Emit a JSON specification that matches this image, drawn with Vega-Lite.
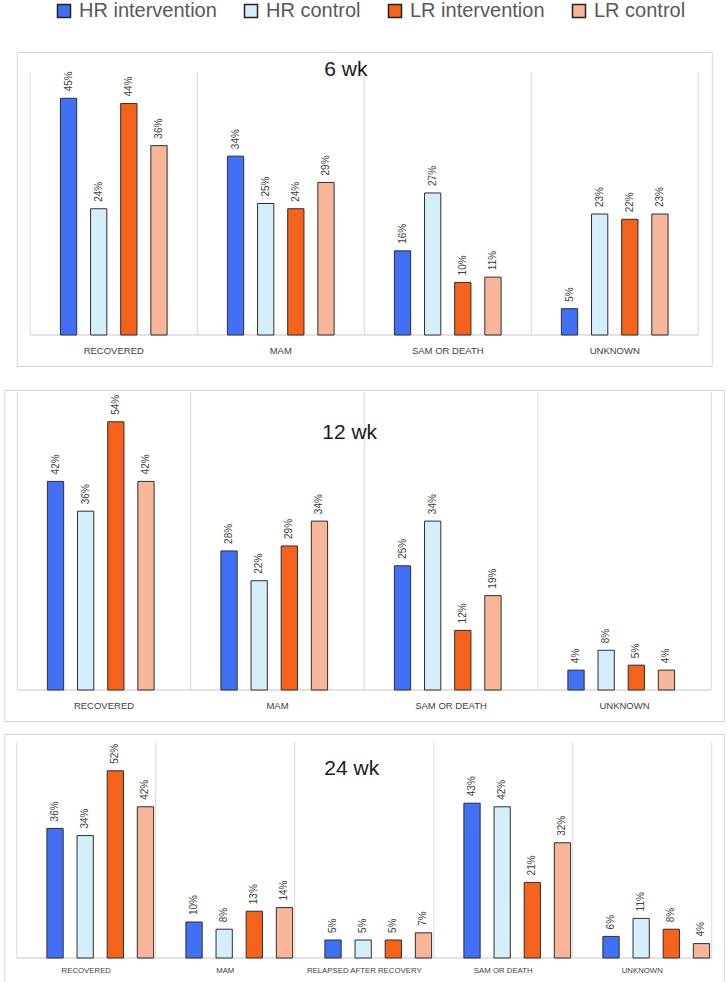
{
  "$schema": "https://vega.github.io/schema/vega-lite/v6.json",
  "padding": {"left": 3, "top": 1, "right": 0, "bottom": 0},
  "background": "white",
  "data": {"values": [
    {"panel": "6 wk", "category": "RECOVERED", "group": "HR intervention", "value": 0.45},
    {"panel": "6 wk", "category": "RECOVERED", "group": "HR control", "value": 0.24},
    {"panel": "6 wk", "category": "RECOVERED", "group": "LR intervention", "value": 0.44},
    {"panel": "6 wk", "category": "RECOVERED", "group": "LR control", "value": 0.36},
    {"panel": "6 wk", "category": "MAM", "group": "HR intervention", "value": 0.34},
    {"panel": "6 wk", "category": "MAM", "group": "HR control", "value": 0.25},
    {"panel": "6 wk", "category": "MAM", "group": "LR intervention", "value": 0.24},
    {"panel": "6 wk", "category": "MAM", "group": "LR control", "value": 0.29},
    {"panel": "6 wk", "category": "SAM OR DEATH", "group": "HR intervention", "value": 0.16},
    {"panel": "6 wk", "category": "SAM OR DEATH", "group": "HR control", "value": 0.27},
    {"panel": "6 wk", "category": "SAM OR DEATH", "group": "LR intervention", "value": 0.10},
    {"panel": "6 wk", "category": "SAM OR DEATH", "group": "LR control", "value": 0.11},
    {"panel": "6 wk", "category": "UNKNOWN", "group": "HR intervention", "value": 0.05},
    {"panel": "6 wk", "category": "UNKNOWN", "group": "HR control", "value": 0.23},
    {"panel": "6 wk", "category": "UNKNOWN", "group": "LR intervention", "value": 0.22},
    {"panel": "6 wk", "category": "UNKNOWN", "group": "LR control", "value": 0.23},
    {"panel": "12 wk", "category": "RECOVERED", "group": "HR intervention", "value": 0.42},
    {"panel": "12 wk", "category": "RECOVERED", "group": "HR control", "value": 0.36},
    {"panel": "12 wk", "category": "RECOVERED", "group": "LR intervention", "value": 0.54},
    {"panel": "12 wk", "category": "RECOVERED", "group": "LR control", "value": 0.42},
    {"panel": "12 wk", "category": "MAM", "group": "HR intervention", "value": 0.28},
    {"panel": "12 wk", "category": "MAM", "group": "HR control", "value": 0.22},
    {"panel": "12 wk", "category": "MAM", "group": "LR intervention", "value": 0.29},
    {"panel": "12 wk", "category": "MAM", "group": "LR control", "value": 0.34},
    {"panel": "12 wk", "category": "SAM OR DEATH", "group": "HR intervention", "value": 0.25},
    {"panel": "12 wk", "category": "SAM OR DEATH", "group": "HR control", "value": 0.34},
    {"panel": "12 wk", "category": "SAM OR DEATH", "group": "LR intervention", "value": 0.12},
    {"panel": "12 wk", "category": "SAM OR DEATH", "group": "LR control", "value": 0.19},
    {"panel": "12 wk", "category": "UNKNOWN", "group": "HR intervention", "value": 0.04},
    {"panel": "12 wk", "category": "UNKNOWN", "group": "HR control", "value": 0.08},
    {"panel": "12 wk", "category": "UNKNOWN", "group": "LR intervention", "value": 0.05},
    {"panel": "12 wk", "category": "UNKNOWN", "group": "LR control", "value": 0.04},
    {"panel": "24 wk", "category": "RECOVERED", "group": "HR intervention", "value": 0.36},
    {"panel": "24 wk", "category": "RECOVERED", "group": "HR control", "value": 0.34},
    {"panel": "24 wk", "category": "RECOVERED", "group": "LR intervention", "value": 0.52},
    {"panel": "24 wk", "category": "RECOVERED", "group": "LR control", "value": 0.42},
    {"panel": "24 wk", "category": "MAM", "group": "HR intervention", "value": 0.10},
    {"panel": "24 wk", "category": "MAM", "group": "HR control", "value": 0.08},
    {"panel": "24 wk", "category": "MAM", "group": "LR intervention", "value": 0.13},
    {"panel": "24 wk", "category": "MAM", "group": "LR control", "value": 0.14},
    {"panel": "24 wk", "category": "RELAPSED AFTER RECOVERY", "group": "HR intervention", "value": 0.05},
    {"panel": "24 wk", "category": "RELAPSED AFTER RECOVERY", "group": "HR control", "value": 0.05},
    {"panel": "24 wk", "category": "RELAPSED AFTER RECOVERY", "group": "LR intervention", "value": 0.05},
    {"panel": "24 wk", "category": "RELAPSED AFTER RECOVERY", "group": "LR control", "value": 0.07},
    {"panel": "24 wk", "category": "SAM OR DEATH", "group": "HR intervention", "value": 0.43},
    {"panel": "24 wk", "category": "SAM OR DEATH", "group": "HR control", "value": 0.42},
    {"panel": "24 wk", "category": "SAM OR DEATH", "group": "LR intervention", "value": 0.21},
    {"panel": "24 wk", "category": "SAM OR DEATH", "group": "LR control", "value": 0.32},
    {"panel": "24 wk", "category": "UNKNOWN", "group": "HR intervention", "value": 0.06},
    {"panel": "24 wk", "category": "UNKNOWN", "group": "HR control", "value": 0.11},
    {"panel": "24 wk", "category": "UNKNOWN", "group": "LR intervention", "value": 0.08},
    {"panel": "24 wk", "category": "UNKNOWN", "group": "LR control", "value": 0.04}
  ]},
  "center": true,
  "spacing": 22,
  "vconcat": [
    {
      "width": 695, "height": 314,
      "transform": [{"filter": "datum.panel == '6 wk'"}],
      "layer": [
        {
          "transform": [{"aggregate": [{"op": "count", "as": "n"}], "groupby": ["category"]}],
          "mark": {"type": "rule", "color": "#d9d9d9", "strokeWidth": 1},
          "encoding": {
            "x": {"field": "category", "type": "nominal", "bandPosition": 0, "axis": null, "scale": {"domain": ["RECOVERED", "MAM", "SAM OR DEATH", "UNKNOWN"], "paddingInner": 0, "paddingOuter": 0.081}},
            "y": {"datum": 0, "type": "quantitative", "axis": null, "scale": {"domain": [-0.0589, 0.538], "nice": false, "zero": false}},
            "y2": {"datum": 0.5}
          }
        },
        {
          "transform": [{"aggregate": [{"op": "count", "as": "n"}], "groupby": ["category"]}, {"filter": "datum.category == 'UNKNOWN'"}],
          "mark": {"type": "rule", "color": "#d9d9d9", "strokeWidth": 1},
          "encoding": {
            "x": {"field": "category", "type": "nominal", "bandPosition": 1, "axis": null, "scale": {"domain": ["RECOVERED", "MAM", "SAM OR DEATH", "UNKNOWN"], "paddingInner": 0, "paddingOuter": 0.081}},
            "y": {"datum": 0, "type": "quantitative", "axis": null, "scale": {"domain": [-0.0589, 0.538], "nice": false, "zero": false}},
            "y2": {"datum": 0.5}
          }
        },
        {
          "transform": [{"aggregate": [{"op": "count", "as": "n"}], "groupby": ["category"]}],
          "mark": {"type": "bar", "fill": null, "fillOpacity": 0, "stroke": "#d9d9d9", "strokeWidth": 1},
          "encoding": {
            "x": {"field": "category", "type": "nominal", "axis": null, "scale": {"domain": ["RECOVERED", "MAM", "SAM OR DEATH", "UNKNOWN"], "paddingInner": 0, "paddingOuter": 0.081}},
            "y": {"datum": 0, "type": "quantitative", "axis": null, "scale": {"domain": [-0.0589, 0.538], "nice": false, "zero": false}},
            "y2": {"datum": 0}
          }
        },
        {
          "mark": {"type": "bar", "stroke": "#2e2e2e", "strokeWidth": 1},
          "encoding": {
            "x": {"field": "category", "type": "nominal", "axis": null, "scale": {"domain": ["RECOVERED", "MAM", "SAM OR DEATH", "UNKNOWN"], "paddingInner": 0, "paddingOuter": 0.081}},
            "xOffset": {"field": "group", "type": "nominal", "scale": {"domain": ["HR intervention", "HR control", "LR intervention", "LR control"], "paddingInner": 0.46, "paddingOuter": 1.15}},
            "y": {"field": "value", "type": "quantitative", "axis": null, "scale": {"domain": [-0.0589, 0.538], "nice": false, "zero": false}},
            "y2": {"datum": 0},
            "color": {"field": "group", "type": "nominal", "scale": {"domain": ["HR intervention", "HR control", "LR intervention", "LR control"], "range": ["#4170F5", "#D4EFF9", "#F4621B", "#F8B698"]}, "legend": {"orient": "none", "legendX": 50, "legendY": -51, "direction": "horizontal", "title": null}}
          }
        },
        {
          "mark": {"type": "text", "angle": 270, "align": "left", "baseline": "middle", "dx": 7, "fontSize": 10, "font": "Liberation Sans", "color": "#404040"},
          "encoding": {
            "x": {"field": "category", "type": "nominal", "axis": null, "scale": {"domain": ["RECOVERED", "MAM", "SAM OR DEATH", "UNKNOWN"], "paddingInner": 0, "paddingOuter": 0.081}},
            "xOffset": {"field": "group", "type": "nominal", "scale": {"domain": ["HR intervention", "HR control", "LR intervention", "LR control"], "paddingInner": 0.46, "paddingOuter": 1.15}},
            "y": {"field": "value", "type": "quantitative", "axis": null, "scale": {"domain": [-0.0589, 0.538], "nice": false, "zero": false}},
            "text": {"field": "value", "type": "quantitative", "format": ".0%"}
          }
        },
        {
          "transform": [{"aggregate": [{"op": "count", "as": "n"}], "groupby": ["category"]}],
          "mark": {"type": "text", "align": "center", "baseline": "middle", "fontSize": 9.5, "font": "Liberation Sans", "color": "#404040"},
          "encoding": {
            "x": {"field": "category", "type": "nominal", "axis": null, "scale": {"domain": ["RECOVERED", "MAM", "SAM OR DEATH", "UNKNOWN"], "paddingInner": 0, "paddingOuter": 0.081}},
            "y": {"datum": -0.0304, "type": "quantitative", "axis": null, "scale": {"domain": [-0.0589, 0.538], "nice": false, "zero": false}},
            "text": {"field": "category", "type": "nominal"}
          }
        },
        {
          "data": {"values": [{"category": "MAM", "t": "6 wk"}]},
          "mark": {"type": "text", "align": "center", "baseline": "middle", "fontSize": 21, "font": "Liberation Sans", "color": "#1a1a1a"},
          "encoding": {
            "x": {"field": "category", "type": "nominal", "bandPosition": 0.89, "axis": null, "scale": {"domain": ["RECOVERED", "MAM", "SAM OR DEATH", "UNKNOWN"], "paddingInner": 0, "paddingOuter": 0.081}},
            "y": {"datum": 0.504, "type": "quantitative", "axis": null, "scale": {"domain": [-0.0589, 0.538], "nice": false, "zero": false}},
            "text": {"field": "t", "type": "nominal"}
          }
        }
      ]
    },
    {
      "spacing": 11,
      "vconcat": [
        {
          "width": 720, "height": 331,
          "transform": [{"filter": "datum.panel == '12 wk'"}],
          "layer": [
            {
              "transform": [{"aggregate": [{"op": "count", "as": "n"}], "groupby": ["category"]}],
              "mark": {"type": "rule", "color": "#d9d9d9", "strokeWidth": 1},
              "encoding": {
                "x": {"field": "category", "type": "nominal", "bandPosition": 0, "axis": null, "scale": {"domain": ["RECOVERED", "MAM", "SAM OR DEATH", "UNKNOWN"], "paddingInner": 0, "paddingOuter": 0.075}},
                "y": {"datum": 0, "type": "quantitative", "axis": null, "scale": {"domain": [-0.0624, 0.604], "nice": false, "zero": false}},
                "y2": {"datum": 0.6}
              }
            },
            {
              "transform": [{"aggregate": [{"op": "count", "as": "n"}], "groupby": ["category"]}, {"filter": "datum.category == 'UNKNOWN'"}],
              "mark": {"type": "rule", "color": "#d9d9d9", "strokeWidth": 1},
              "encoding": {
                "x": {"field": "category", "type": "nominal", "bandPosition": 1, "axis": null, "scale": {"domain": ["RECOVERED", "MAM", "SAM OR DEATH", "UNKNOWN"], "paddingInner": 0, "paddingOuter": 0.075}},
                "y": {"datum": 0, "type": "quantitative", "axis": null, "scale": {"domain": [-0.0624, 0.604], "nice": false, "zero": false}},
                "y2": {"datum": 0.6}
              }
            },
            {
              "transform": [{"aggregate": [{"op": "count", "as": "n"}], "groupby": ["category"]}],
              "mark": {"type": "bar", "fill": null, "fillOpacity": 0, "stroke": "#d9d9d9", "strokeWidth": 1},
              "encoding": {
                "x": {"field": "category", "type": "nominal", "axis": null, "scale": {"domain": ["RECOVERED", "MAM", "SAM OR DEATH", "UNKNOWN"], "paddingInner": 0, "paddingOuter": 0.075}},
                "y": {"datum": 0, "type": "quantitative", "axis": null, "scale": {"domain": [-0.0624, 0.604], "nice": false, "zero": false}},
                "y2": {"datum": 0}
              }
            },
            {
              "mark": {"type": "bar", "stroke": "#2e2e2e", "strokeWidth": 1},
              "encoding": {
                "x": {"field": "category", "type": "nominal", "axis": null, "scale": {"domain": ["RECOVERED", "MAM", "SAM OR DEATH", "UNKNOWN"], "paddingInner": 0, "paddingOuter": 0.075}},
                "xOffset": {"field": "group", "type": "nominal", "scale": {"domain": ["HR intervention", "HR control", "LR intervention", "LR control"], "paddingInner": 0.46, "paddingOuter": 1.15}},
                "y": {"field": "value", "type": "quantitative", "axis": null, "scale": {"domain": [-0.0624, 0.604], "nice": false, "zero": false}},
                "y2": {"datum": 0},
                "color": {"field": "group", "type": "nominal", "scale": {"domain": ["HR intervention", "HR control", "LR intervention", "LR control"], "range": ["#4170F5", "#D4EFF9", "#F4621B", "#F8B698"]}, "legend": {"orient": "none", "legendX": 50, "legendY": -51, "direction": "horizontal", "title": null}}
              }
            },
            {
              "mark": {"type": "text", "angle": 270, "align": "left", "baseline": "middle", "dx": 7, "fontSize": 10, "font": "Liberation Sans", "color": "#404040"},
              "encoding": {
                "x": {"field": "category", "type": "nominal", "axis": null, "scale": {"domain": ["RECOVERED", "MAM", "SAM OR DEATH", "UNKNOWN"], "paddingInner": 0, "paddingOuter": 0.075}},
                "xOffset": {"field": "group", "type": "nominal", "scale": {"domain": ["HR intervention", "HR control", "LR intervention", "LR control"], "paddingInner": 0.46, "paddingOuter": 1.15}},
                "y": {"field": "value", "type": "quantitative", "axis": null, "scale": {"domain": [-0.0624, 0.604], "nice": false, "zero": false}},
                "text": {"field": "value", "type": "quantitative", "format": ".0%"}
              }
            },
            {
              "transform": [{"aggregate": [{"op": "count", "as": "n"}], "groupby": ["category"]}],
              "mark": {"type": "text", "align": "center", "baseline": "middle", "fontSize": 9.5, "font": "Liberation Sans", "color": "#404040"},
              "encoding": {
                "x": {"field": "category", "type": "nominal", "axis": null, "scale": {"domain": ["RECOVERED", "MAM", "SAM OR DEATH", "UNKNOWN"], "paddingInner": 0, "paddingOuter": 0.075}},
                "y": {"datum": -0.032, "type": "quantitative", "axis": null, "scale": {"domain": [-0.0624, 0.604], "nice": false, "zero": false}},
                "text": {"field": "category", "type": "nominal"}
              }
            },
            {
              "data": {"values": [{"category": "MAM", "t": "12 wk"}]},
              "mark": {"type": "text", "align": "center", "baseline": "middle", "fontSize": 21, "font": "Liberation Sans", "color": "#1a1a1a"},
              "encoding": {
                "x": {"field": "category", "type": "nominal", "bandPosition": 0.916, "axis": null, "scale": {"domain": ["RECOVERED", "MAM", "SAM OR DEATH", "UNKNOWN"], "paddingInner": 0, "paddingOuter": 0.075}},
                "y": {"datum": 0.5174, "type": "quantitative", "axis": null, "scale": {"domain": [-0.0624, 0.604], "nice": false, "zero": false}},
                "text": {"field": "t", "type": "nominal"}
              }
            }
          ]
        },
        {
          "width": 720, "height": 250,
          "transform": [{"filter": "datum.panel == '24 wk'"}],
          "layer": [
            {
              "transform": [{"aggregate": [{"op": "count", "as": "n"}], "groupby": ["category"]}],
              "mark": {"type": "rule", "color": "#d9d9d9", "strokeWidth": 1},
              "encoding": {
                "x": {"field": "category", "type": "nominal", "bandPosition": 0, "axis": null, "scale": {"domain": ["RECOVERED", "MAM", "RELAPSED AFTER RECOVERY", "SAM OR DEATH", "UNKNOWN"], "paddingInner": 0, "paddingOuter": 0.09}},
                "y": {"datum": 0, "type": "quantitative", "axis": null, "scale": {"domain": [-0.0722, 0.6222], "nice": false, "zero": false}},
                "y2": {"datum": 0.6}
              }
            },
            {
              "transform": [{"aggregate": [{"op": "count", "as": "n"}], "groupby": ["category"]}, {"filter": "datum.category == 'UNKNOWN'"}],
              "mark": {"type": "rule", "color": "#d9d9d9", "strokeWidth": 1},
              "encoding": {
                "x": {"field": "category", "type": "nominal", "bandPosition": 1, "axis": null, "scale": {"domain": ["RECOVERED", "MAM", "RELAPSED AFTER RECOVERY", "SAM OR DEATH", "UNKNOWN"], "paddingInner": 0, "paddingOuter": 0.09}},
                "y": {"datum": 0, "type": "quantitative", "axis": null, "scale": {"domain": [-0.0722, 0.6222], "nice": false, "zero": false}},
                "y2": {"datum": 0.6}
              }
            },
            {
              "transform": [{"aggregate": [{"op": "count", "as": "n"}], "groupby": ["category"]}],
              "mark": {"type": "bar", "fill": null, "fillOpacity": 0, "stroke": "#d9d9d9", "strokeWidth": 1},
              "encoding": {
                "x": {"field": "category", "type": "nominal", "axis": null, "scale": {"domain": ["RECOVERED", "MAM", "RELAPSED AFTER RECOVERY", "SAM OR DEATH", "UNKNOWN"], "paddingInner": 0, "paddingOuter": 0.09}},
                "y": {"datum": 0, "type": "quantitative", "axis": null, "scale": {"domain": [-0.0722, 0.6222], "nice": false, "zero": false}},
                "y2": {"datum": 0}
              }
            },
            {
              "mark": {"type": "bar", "stroke": "#2e2e2e", "strokeWidth": 1},
              "encoding": {
                "x": {"field": "category", "type": "nominal", "axis": null, "scale": {"domain": ["RECOVERED", "MAM", "RELAPSED AFTER RECOVERY", "SAM OR DEATH", "UNKNOWN"], "paddingInner": 0, "paddingOuter": 0.09}},
                "xOffset": {"field": "group", "type": "nominal", "scale": {"domain": ["HR intervention", "HR control", "LR intervention", "LR control"], "paddingInner": 0.44, "paddingOuter": 1.12}},
                "y": {"field": "value", "type": "quantitative", "axis": null, "scale": {"domain": [-0.0722, 0.6222], "nice": false, "zero": false}},
                "y2": {"datum": 0},
                "color": {"field": "group", "type": "nominal", "scale": {"domain": ["HR intervention", "HR control", "LR intervention", "LR control"], "range": ["#4170F5", "#D4EFF9", "#F4621B", "#F8B698"]}, "legend": {"orient": "none", "legendX": 50, "legendY": -51, "direction": "horizontal", "title": null}}
              }
            },
            {
              "mark": {"type": "text", "angle": 270, "align": "left", "baseline": "middle", "dx": 7, "fontSize": 10, "font": "Liberation Sans", "color": "#404040"},
              "encoding": {
                "x": {"field": "category", "type": "nominal", "axis": null, "scale": {"domain": ["RECOVERED", "MAM", "RELAPSED AFTER RECOVERY", "SAM OR DEATH", "UNKNOWN"], "paddingInner": 0, "paddingOuter": 0.09}},
                "xOffset": {"field": "group", "type": "nominal", "scale": {"domain": ["HR intervention", "HR control", "LR intervention", "LR control"], "paddingInner": 0.44, "paddingOuter": 1.12}},
                "y": {"field": "value", "type": "quantitative", "axis": null, "scale": {"domain": [-0.0722, 0.6222], "nice": false, "zero": false}},
                "text": {"field": "value", "type": "quantitative", "format": ".0%"}
              }
            },
            {
              "transform": [{"aggregate": [{"op": "count", "as": "n"}], "groupby": ["category"]}],
              "mark": {"type": "text", "align": "center", "baseline": "middle", "fontSize": 7.8, "font": "Liberation Sans", "color": "#404040"},
              "encoding": {
                "x": {"field": "category", "type": "nominal", "axis": null, "scale": {"domain": ["RECOVERED", "MAM", "RELAPSED AFTER RECOVERY", "SAM OR DEATH", "UNKNOWN"], "paddingInner": 0, "paddingOuter": 0.09}},
                "y": {"datum": -0.036, "type": "quantitative", "axis": null, "scale": {"domain": [-0.0722, 0.6222], "nice": false, "zero": false}},
                "text": {"field": "category", "type": "nominal"}
              }
            },
            {
              "data": {"values": [{"category": "RELAPSED AFTER RECOVERY", "t": "24 wk"}]},
              "mark": {"type": "text", "align": "center", "baseline": "middle", "fontSize": 21, "font": "Liberation Sans", "color": "#1a1a1a"},
              "encoding": {
                "x": {"field": "category", "type": "nominal", "bandPosition": 0.41, "axis": null, "scale": {"domain": ["RECOVERED", "MAM", "RELAPSED AFTER RECOVERY", "SAM OR DEATH", "UNKNOWN"], "paddingInner": 0, "paddingOuter": 0.09}},
                "y": {"datum": 0.525, "type": "quantitative", "axis": null, "scale": {"domain": [-0.0722, 0.6222], "nice": false, "zero": false}},
                "text": {"field": "t", "type": "nominal"}
              }
            }
          ]
        }
      ]
    }
  ],
  "config": {
    "view": {"stroke": "#d4d4d4", "strokeWidth": 1},
    "legend": {
      "symbolType": "square",
      "symbolSize": 169,
      "symbolStrokeColor": "#222222",
      "symbolStrokeWidth": 1.5,
      "symbolOpacity": 1,
      "labelFont": "Liberation Sans",
      "labelFontSize": 20,
      "labelColor": "#595959",
      "labelOffset": 5,
      "columnPadding": 24,
      "labelLimit": 300
    }
  }
}
